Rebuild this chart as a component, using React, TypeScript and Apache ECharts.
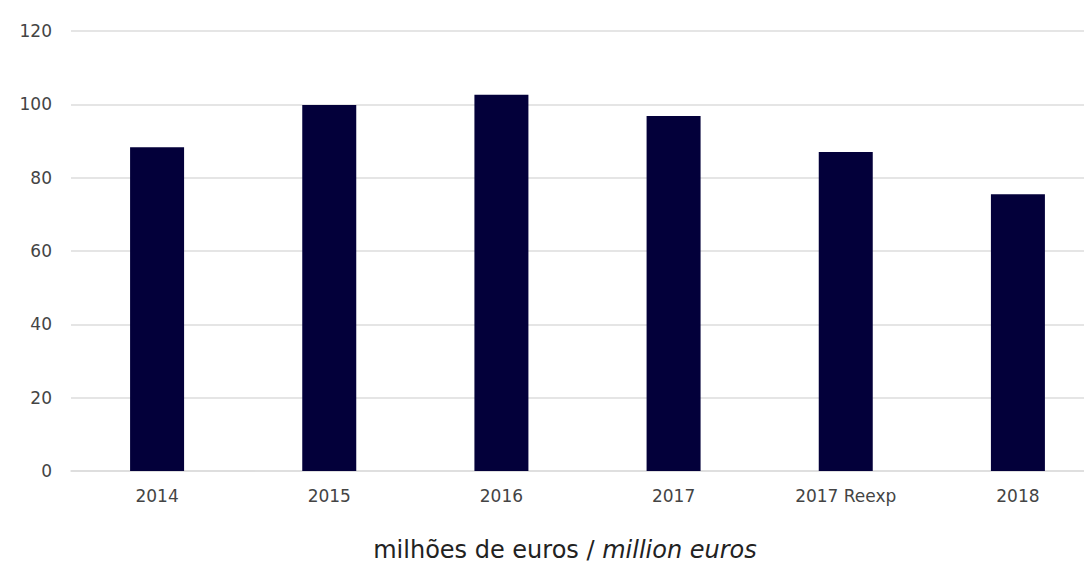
import React, { useEffect, useRef } from "react";
import * as echarts from "echarts";

const categories = ["2014", "2015", "2016", "2017", "2017 Reexp", "2018"];
const values = [88.3, 99.8, 102.6, 96.8, 87.0, 75.5];
const yTicks = { min: 0, max: 120, interval: 20 };
const captionMain = "milhões de euros / ";
const captionItalic = "million euros";

export default function App() {
  const ref = useRef<HTMLDivElement>(null);
  useEffect(() => {
    document.body.style.margin = "0";
    const chart = echarts.init(ref.current!, null, { renderer: "svg" });
    const font = "DejaVu Sans, sans-serif";
    chart.setOption({
      animation: false,
      backgroundColor: "#ffffff",
      grid: { left: 71, top: 31, width: 1033, height: 440, containLabel: false },
      xAxis: {
        type: "category",
        data: categories,
        axisTick: { show: false },
        axisLine: { lineStyle: { color: "#dcdcdc", width: 1.5 } },
        axisLabel: { color: "#444", fontSize: 17, fontFamily: font, margin: 16 },
      },
      yAxis: {
        type: "value",
        min: yTicks.min,
        max: yTicks.max,
        interval: yTicks.interval,
        axisLine: { show: false },
        axisTick: { show: false },
        splitLine: { lineStyle: { color: "#dcdcdc", width: 1.5 } },
        axisLabel: { color: "#444", fontSize: 17, fontFamily: font, margin: 19 },
      },
      series: [
        {
          type: "bar",
          data: values,
          barWidth: 54,
          itemStyle: { color: "#03003a" },
        },
      ],
      graphic: [
        {
          type: "text",
          x: 565,
          y: 550,
          style: {
            text: `{a|${captionMain}}{b|${captionItalic}}`,
            align: "center",
            verticalAlign: "middle",
            rich: {
              a: { fontSize: 24, fontFamily: font, fill: "#222" },
              b: { fontSize: 24, fontFamily: font, fontStyle: "italic", fill: "#222" },
            },
          },
        },
      ],
    });
    return () => chart.dispose();
  }, []);
  return (
    <div style={{ width: 1084, height: 563, overflow: "hidden", position: "relative" }}>
      <div ref={ref} style={{ width: 1120, height: 563 }} />
    </div>
  );
}
